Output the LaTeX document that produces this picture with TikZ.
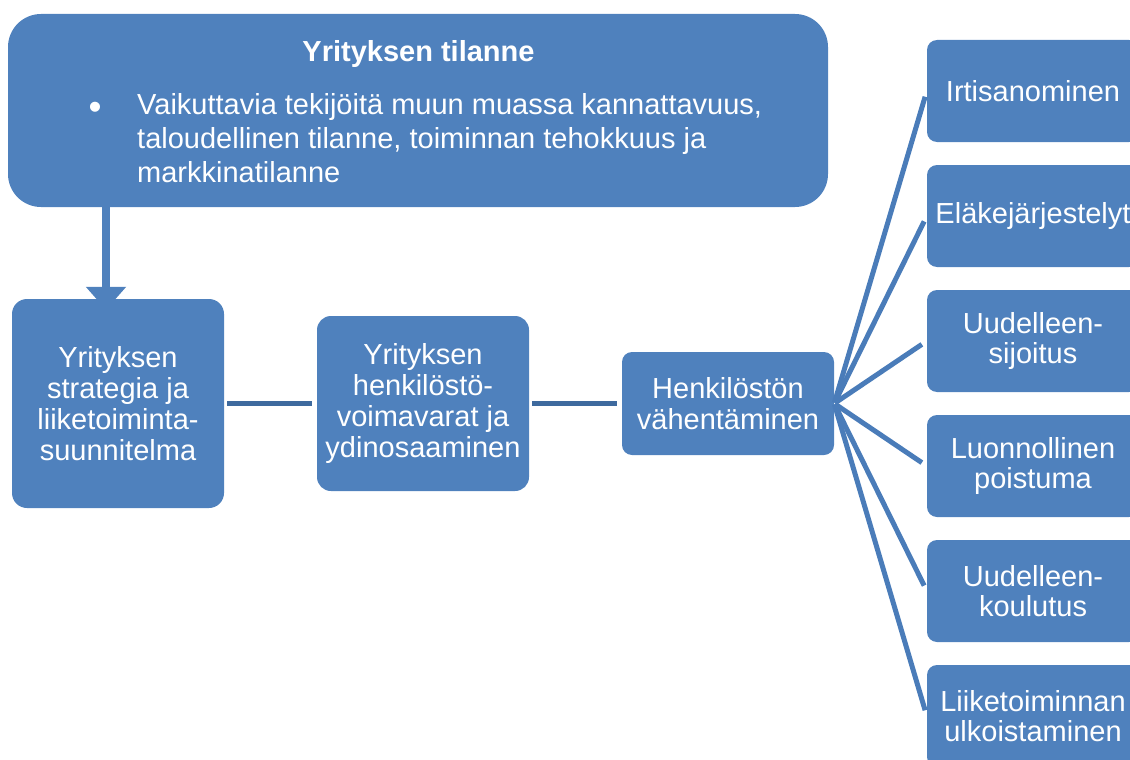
\documentclass[tikz,border=0pt]{standalone}
\usepackage{fontspec}
\setmainfont{Liberation Sans}
\usetikzlibrary{arrows.meta}
\definecolor{boxblue}{HTML}{4F81BD}
\definecolor{linkblue}{HTML}{3E6A9E}
\definecolor{fanblue}{HTML}{4A7CB9}
\begin{document}
\begin{tikzpicture}[x=1pt,y=-1pt,
  box/.style={fill=boxblue, draw=none, text=white, align=center, inner sep=0pt,
    font=\fontsize{29}{31}\selectfont, minimum width=212pt},
  rbox/.style={box, font=\fontsize{29}{30}\selectfont, minimum height=102pt, rounded corners=10pt},
  txt/.style={text=white, inner sep=0pt, font=\fontsize{29}{34}\selectfont},
  link/.style={draw=linkblue, line width=5pt, shorten <=3pt, shorten >=5pt},
  fan/.style={draw=fanblue, line width=5pt, shorten <=1pt, shorten >=6pt},
  downarrow/.style={draw=boxblue, line width=8pt, -{Triangle[width=39pt,length=23pt]}}]
\useasboundingbox (0,0) rectangle (1130,760);
% top box
\node[fill=boxblue, draw=none, inner sep=0pt, minimum width=820pt, minimum height=193pt, rounded corners=33pt] (top) at (418,110.5) {};
\node[txt, font=\fontsize{29}{34}\selectfont\bfseries, anchor=base] (toptitle) at (418.5,62) {Yrityksen tilanne};
\node[txt, font=\fontsize{37}{34}\selectfont, anchor=base] (bullet) at (95,119) {•};
\node[txt, anchor=north west, align=left] (toptext) at (137,93) {Vaikuttavia tekijöitä muun muassa kannattavuus,\\taloudellinen tilanne, toiminnan tehokkuus ja\\markkinatilanne};
% main chain
\node[box, minimum height=209pt, rounded corners=15pt] (s1) at (118,403.5) {Yrityksen\\strategia ja\\liiketoiminta-\\suunnitelma};
\node[box, minimum height=175pt, rounded corners=14pt] (s2) at (423,403.5) {Yrityksen\\henkilöstö-\\voimavarat ja\\ydinosaaminen};
\node[box, minimum height=103pt, rounded corners=10pt] (s3) at (728,403.5) {Henkilöstön\\vähentäminen};
% right column
\node[rbox] (r1) at (1033,91) {Irtisanominen};
\node[rbox] (r2) at (1033,216) {Eläkejärjestelyt};
\node[rbox] (r3) at (1033,341) {Uudelleen-\\sijoitus};
\node[rbox] (r4) at (1033,466) {Luonnollinen\\poistuma};
\node[rbox] (r5) at (1033,591) {Uudelleen-\\koulutus};
\node[rbox] (r6) at (1033,716) {Liiketoiminnan\\ulkoistaminen};
% connectors
\coordinate (ax) at (106,0);
\draw[downarrow, shorten >=-11pt] (top.south -| ax) -- (s1.north -| ax);
\draw[link] (s1.east) -- (s2.west);
\draw[link] (s2.east) -- (s3.west);
\foreach \r in {r1,r2,r3,r4,r5,r6}
  \draw[fan] (s3.east) -- (\r.west);
\end{tikzpicture}
\end{document}
